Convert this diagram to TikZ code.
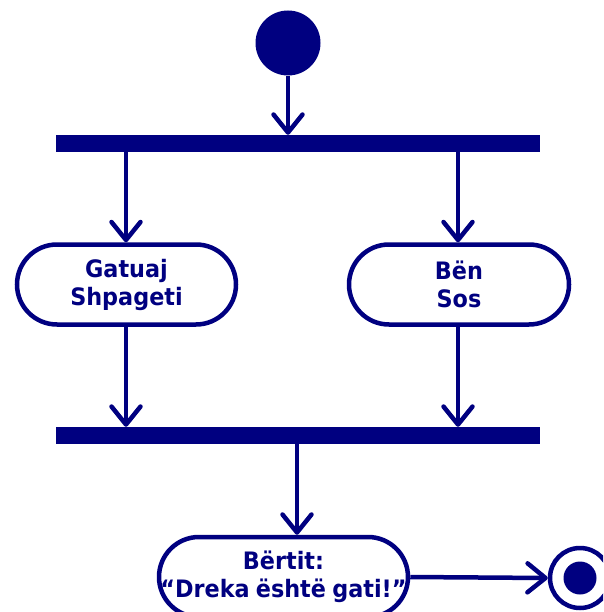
\documentclass[tikz,border=0pt]{standalone}
\usepackage{fontspec}
\setmainfont{DejaVu Sans}[FakeStretch=0.93]
\usetikzlibrary{arrows.meta}
\definecolor{umlblue}{HTML}{000080}
\begin{document}
\begin{tikzpicture}[x=1pt,y=-1pt,
  flow/.style={draw=umlblue,line width=4.5pt,
    -{Straight Barb[length=18pt,width=29pt,line cap=round,line join=round]}},
  action/.style={draw=umlblue,line width=4.5pt,fill=white,rounded corners=40pt,
    minimum height=80pt,inner sep=0pt,align=center,text=umlblue,
    font=\fontsize{24}{28}\selectfont\bfseries},
  bar/.style={fill=umlblue,draw=none,minimum width=484pt,minimum height=17pt,inner sep=0pt},
]
\useasboundingbox (0,0) rectangle (603,612);
\clip (0,0) rectangle (603,612);

% start / end markers
\node[circle,fill=umlblue,minimum size=65pt,inner sep=0pt] (start) at (288,43) {};
\node[circle,draw=umlblue,line width=4.5pt,fill=white,minimum size=60pt,inner sep=0pt] (final) at (580,578) {};
\fill[umlblue] (final.center) circle (16.5);

% fork and join bars
\node[bar] (fork) at (298,143.5) {};
\node[bar] (join) at (298,435.5) {};

% actions
\node[action,minimum width=219pt] (cook) at (126.5,284.5) {Gatuaj\\Shpageti};
\node[action,minimum width=220pt] (sauce) at (459,284.5) {Bën\\Sos};
\node[action,minimum width=249pt] (shout) at (283.5,577) {Bërtit:\\“Dreka\hspace{0.26em}është\hspace{0.26em}gati!”};

% flows
\coordinate (mid) at (297,0);
\draw[flow] (start) -- (fork.north -| start);
\draw[flow] (fork.south -| 126,0) -- (cook.north -| 126,0);
\draw[flow] (fork.south -| 458,0) -- (sauce.north -| 458,0);
\draw[flow] (cook.south -| 126,0) -- (join.north -| 126,0);
\draw[flow] (sauce.south -| 458,0) -- (join.north -| 458,0);
\draw[flow] (join.south -| mid) -- (shout.north -| mid);
\draw[flow] (shout.east) -- (final.west);
\end{tikzpicture}
\end{document}
